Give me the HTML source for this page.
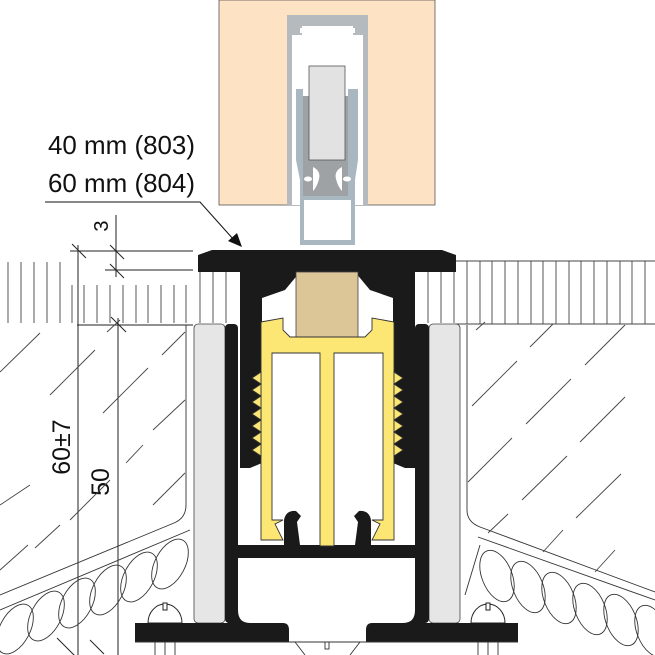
<!DOCTYPE html>
<html><head><meta charset="utf-8"><style>
html,body{margin:0;padding:0;background:#fff}
svg{display:block}
text{font-family:"Liberation Sans",sans-serif;fill:#111}
</style></head><body>
<svg width="655" height="655" viewBox="0 0 655 655" xmlns="http://www.w3.org/2000/svg">
<!-- door -->
<rect x="219" y="0" width="216" height="205" fill="#fde3c3" stroke="#555" stroke-width="0.8"/>
<rect x="287" y="15" width="81" height="190" fill="#b4babd"/>
<rect x="292" y="21" width="71" height="184" fill="#fff"/>
<rect x="292" y="21" width="71" height="5" fill="#b4babd"/>
<rect x="292" y="21" width="10" height="14" fill="#b4babd"/>
<rect x="353" y="21" width="10" height="14" fill="#b4babd"/>
<rect x="300" y="28" width="9" height="5" fill="#fff"/>
<rect x="346" y="28" width="9" height="5" fill="#fff"/>
<!-- seal -->
<path d="M296 89 L303 89 L303 96 L348 96 L348 89 L358 89 L358 160 L355 180 L355 245 L300 245 L300 180 L296 160 Z" fill="#a9b7c0"/>
<rect x="304" y="200" width="47" height="40" fill="#fff"/>
<rect x="303" y="96" width="45" height="100" fill="#9ea2a5"/>
<rect x="309" y="66" width="36" height="94" fill="#e2e2e2" stroke="#555" stroke-width="0.8"/>
<path d="M313 167 q8 4 6 12 q-2 8 -6 12 z M342 167 q-8 4 -6 12 q2 8 6 12 z" fill="#fff"/>
<ellipse cx="308" cy="179" rx="4" ry="2.5" fill="#fff"/>
<ellipse cx="347" cy="179" rx="4" ry="2.5" fill="#fff"/>
<!-- labels -->
<text x="48" y="154" font-size="26" textLength="147" lengthAdjust="spacingAndGlyphs">40 mm (803)</text>
<text x="48" y="192" font-size="26" textLength="147" lengthAdjust="spacingAndGlyphs">60 mm (804)</text>
<polyline points="45,202 200,202 234,240" fill="none" stroke="#111" stroke-width="1"/>
<polygon points="242,247 228,241 237,233" fill="#111"/>
<!-- dimension 3 -->
<g stroke="#222" stroke-width="1" fill="none">
<line x1="116" y1="215" x2="116" y2="277"/>
<line x1="70" y1="251" x2="193" y2="251"/>
<line x1="105" y1="270" x2="193" y2="270"/>
<line x1="110" y1="245" x2="124" y2="259"/><line x1="110" y1="264" x2="124" y2="278"/>
<line x1="72" y1="244" x2="86" y2="258"/>
<line x1="78" y1="245" x2="78" y2="655"/>
<line x1="118" y1="318" x2="118" y2="655"/>
<line x1="77" y1="325" x2="193" y2="325"/>
<line x1="111" y1="317" x2="126" y2="332"/>
<line x1="57" y1="638" x2="75" y2="656"/><line x1="90" y1="640" x2="104" y2="654"/>
</g>
<text transform="translate(108,226) rotate(-90)" font-size="20" text-anchor="middle">3</text>
<text transform="translate(70,447) rotate(-90)" font-size="25" text-anchor="middle">60±7</text>
<text transform="translate(109,482) rotate(-90)" font-size="25" text-anchor="middle">50</text>
<!-- top hatch band -->
<g stroke="#444" stroke-width="0.9">
<line x1="8" y1="262" x2="8" y2="323"/><line x1="21" y1="262" x2="21" y2="323"/><line x1="34" y1="262" x2="34" y2="323"/><line x1="47" y1="262" x2="47" y2="323"/><line x1="60" y1="262" x2="60" y2="323"/>
<line x1="72" y1="285" x2="72" y2="323"/><line x1="84" y1="285" x2="84" y2="323"/><line x1="97" y1="285" x2="97" y2="323"/><line x1="110" y1="285" x2="110" y2="323"/><line x1="123" y1="285" x2="123" y2="323"/><line x1="136" y1="285" x2="136" y2="323"/><line x1="148" y1="285" x2="148" y2="323"/><line x1="161" y1="285" x2="161" y2="323"/><line x1="174" y1="285" x2="174" y2="323"/><line x1="186" y1="285" x2="186" y2="323"/>
<line x1="200" y1="272" x2="200" y2="323"/><line x1="213" y1="272" x2="213" y2="323"/><line x1="226" y1="272" x2="226" y2="323"/>
<line x1="428" y1="272" x2="428" y2="323"/><line x1="441" y1="272" x2="441" y2="323"/><line x1="454" y1="272" x2="454" y2="323"/>
<line x1="455" y1="261" x2="655" y2="261"/>
<line x1="455" y1="324" x2="655" y2="324"/>
<line x1="467" y1="261" x2="467" y2="324"/><line x1="480" y1="261" x2="480" y2="324"/><line x1="492" y1="261" x2="492" y2="324"/><line x1="505" y1="261" x2="505" y2="324"/><line x1="518" y1="261" x2="518" y2="324"/><line x1="531" y1="261" x2="531" y2="324"/><line x1="543" y1="261" x2="543" y2="324"/><line x1="556" y1="261" x2="556" y2="324"/><line x1="569" y1="261" x2="569" y2="324"/><line x1="581" y1="261" x2="581" y2="324"/><line x1="594" y1="261" x2="594" y2="324"/><line x1="607" y1="261" x2="607" y2="324"/><line x1="620" y1="261" x2="620" y2="324"/><line x1="632" y1="261" x2="632" y2="324"/><line x1="645" y1="261" x2="645" y2="324"/>
</g>
<!-- concrete hatch dashes -->
<g stroke="#444" stroke-width="0.9">
<line x1="0" y1="372" x2="40" y2="333"/><line x1="50" y1="395" x2="95" y2="350"/><line x1="107" y1="332" x2="120" y2="320"/><line x1="103" y1="413" x2="148" y2="368"/><line x1="162" y1="355" x2="185" y2="332"/>
<line x1="0" y1="505" x2="30" y2="485"/><line x1="126" y1="463" x2="143" y2="445"/><line x1="153" y1="430" x2="185" y2="400"/><line x1="153" y1="505" x2="185" y2="473"/><line x1="70" y1="520" x2="110" y2="480"/><line x1="0" y1="570" x2="28" y2="545"/><line x1="35" y1="548" x2="60" y2="525"/>
<line x1="476" y1="330" x2="485" y2="322"/><line x1="530" y1="347" x2="553" y2="324"/><line x1="585" y1="365" x2="625" y2="325"/><line x1="472" y1="406" x2="517" y2="361"/><line x1="526" y1="424" x2="571" y2="379"/><line x1="580" y1="442" x2="625" y2="397"/><line x1="468" y1="482" x2="512" y2="438"/><line x1="522" y1="500" x2="567" y2="456"/><line x1="576" y1="518" x2="621" y2="474"/><line x1="488" y1="533" x2="508" y2="514"/><line x1="543" y1="552" x2="563" y2="530"/><line x1="595" y1="572" x2="615" y2="550"/>
</g>
<!-- wall edges & insulation -->
<g stroke="#333" stroke-width="0.9" fill="none">
<path d="M186 325 L186 505 Q186 518 174 523 L0 595"/>
<path d="M190 530 L0 610"/>
<path d="M467 325 L467 510 Q467 522 480 527 L655 592"/>
<path d="M478 537 L655 600"/>
<ellipse cx="170" cy="564" rx="15" ry="27" transform="rotate(28 170 564)"/>
<ellipse cx="139" cy="577" rx="15" ry="27" transform="rotate(28 139 577)"/>
<ellipse cx="108" cy="590" rx="15" ry="27" transform="rotate(28 108 590)"/>
<ellipse cx="77" cy="603" rx="15" ry="27" transform="rotate(28 77 603)"/>
<ellipse cx="46" cy="616" rx="15" ry="27" transform="rotate(28 46 616)"/>
<ellipse cx="15" cy="629" rx="15" ry="27" transform="rotate(28 15 629)"/>
<ellipse cx="497" cy="576" rx="15" ry="27" transform="rotate(-22 497 576)"/>
<ellipse cx="528" cy="587" rx="15" ry="27" transform="rotate(-22 528 587)"/>
<ellipse cx="559" cy="598" rx="15" ry="27" transform="rotate(-22 559 598)"/>
<ellipse cx="590" cy="609" rx="15" ry="27" transform="rotate(-22 590 609)"/>
<ellipse cx="621" cy="620" rx="15" ry="27" transform="rotate(-22 621 620)"/>
<ellipse cx="652" cy="631" rx="15" ry="27" transform="rotate(-22 652 631)"/>
<line x1="480" y1="545" x2="465" y2="595"/>
</g>
<!-- light plates -->
<rect x="194" y="324" width="31" height="299" rx="4" fill="#e6e6e6" stroke="#444" stroke-width="0.8"/>
<rect x="429" y="324" width="31" height="299" rx="4" fill="#e6e6e6" stroke="#444" stroke-width="0.8"/>
<!-- screws -->
<g fill="#fff" stroke="#222" stroke-width="1">
<path d="M148 623 A17 19 0 0 1 182 623 Z"/><rect x="163" y="603" width="4" height="7"/>
<path d="M471 623 A17 19 0 0 1 505 623 Z"/><rect x="486" y="603" width="4" height="7"/>
</g>
<!-- housing -->
<rect x="225" y="324" width="13" height="299" rx="4" fill="#1a1a1a"/>
<rect x="228" y="330" width="10" height="293" fill="#1a1a1a"/>
<rect x="415" y="324" width="14" height="299" rx="4" fill="#1a1a1a"/>
<rect x="415" y="330" width="10" height="293" fill="#1a1a1a"/>
<rect x="238" y="545" width="177" height="13" fill="#1a1a1a"/>
<path d="M135 623 L283 623 Q289 623 289 630 L289 642 L135 642 Z" fill="#1a1a1a"/>
<path d="M366 630 Q366 623 372 623 L518 623 L518 642 L366 642 Z" fill="#1a1a1a"/>
<path d="M238 610 Q238 623 250 623 L238 623 Z M415 610 Q415 623 403 623 L415 623 Z" fill="#1a1a1a"/>
<!-- hooks on floor -->
<path d="M284 545 L284 520 Q286 510 296 511 L301 516 L297 522 L300 545 Z" fill="#1a1a1a"/>
<path d="M371 545 L371 520 Q369 510 359 511 L354 516 L358 522 L355 545 Z" fill="#1a1a1a"/>
<!-- cap -->
<path d="M198 255 L212 250 L442 250 L456 255 L456 272 L198 272 Z" fill="#1a1a1a"/>
<path d="M240 272 L262 272 L262 463 L250 468 L240 468 Z" fill="#1a1a1a"/>
<path d="M393 272 L415 272 L415 468 L405 468 L393 463 Z" fill="#1a1a1a"/>
<path d="M262 272 L300 272 L285 290 L262 298 Z" fill="#1a1a1a"/>
<path d="M393 272 L355 272 L370 290 L393 298 Z" fill="#1a1a1a"/>
<!-- wood -->
<rect x="296" y="272" width="62" height="66" fill="#dcc597" stroke="#444" stroke-width="0.8"/>
<!-- yellow profile -->
<g fill="#fce774" stroke="#333" stroke-width="0.9">
<path d="M261 322 L283 318 L283 330 L290 337 L365 337 L372 330 L372 318 L394 322 L394 540 L372 540 L380 524 L372 520 L383 520 L383 353 L334 353 L334 546 L320 546 L320 353 L272 353 L272 520 L283 520 L275 524 L283 540 L261 540 Z"/>
<path d="M261 372 L252 378 L261 384 L252 390 L261 396 L252 402 L261 408 L252 414 L261 420 L252 426 L261 432 L252 438 L261 444 L252 450 L261 456 Z"/>
<path d="M394 372 L403 378 L394 384 L403 390 L394 396 L403 402 L394 408 L403 414 L394 420 L403 426 L394 432 L403 438 L394 444 L403 450 L394 456 Z"/>
</g>
<!-- below base -->
<g stroke="#333" stroke-width="0.9" fill="none">
<line x1="135" y1="642" x2="518" y2="642"/>
<line x1="155" y1="642" x2="155" y2="655"/><line x1="165" y1="642" x2="165" y2="655"/><line x1="175" y1="642" x2="175" y2="655"/>
<line x1="478" y1="642" x2="478" y2="655"/><line x1="488" y1="642" x2="488" y2="655"/><line x1="498" y1="642" x2="498" y2="655"/>
<line x1="295" y1="642" x2="305" y2="655"/><line x1="360" y1="642" x2="350" y2="655"/>
<rect x="325" y="642" width="4" height="7"/>
</g>
</svg>
</body></html>
